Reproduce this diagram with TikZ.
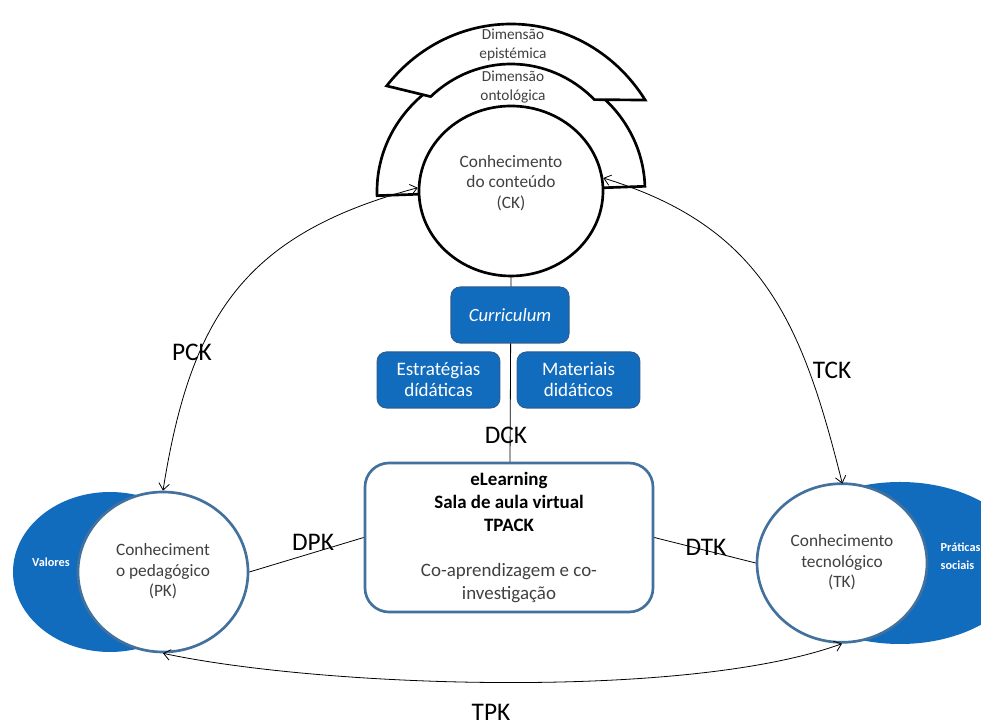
\documentclass[tikz,border=0pt]{standalone}
\usepackage{fontspec}
\setmainfont{Carlito}
\usetikzlibrary{shapes.geometric,arrows.meta}
\definecolor{boxblue}{RGB}{17,108,190}
\definecolor{edgeblue}{RGB}{46,94,146}
\definecolor{ringblue}{RGB}{65,113,156}
\definecolor{textgray}{RGB}{64,64,64}
\tikzset{
  knowledge/.style={ellipse,draw=ringblue,line width=2pt,fill=white,inner sep=0pt},
  ktext/.style={align=center,text=textgray,font=\fontsize{13}{15.5}\selectfont},
  topic/.style={rectangle,rounded corners=7pt,draw=edgeblue,line width=0.8pt,fill=boxblue,
    text=white,align=center,minimum height=42pt,inner sep=0pt,font=\fontsize{14.3}{15.75}\selectfont},
  relation/.style={font=\fontsize{19}{22}\selectfont},
  dimension/.style={draw=black,line width=2pt,fill=white},
  dtext/.style={align=center,text=textgray,font=\fontsize{11.5}{14}\selectfont},
  side/.style={text=white,font=\bfseries\fontsize{9.2}{13.5}\selectfont},
  link/.style={draw=black,line width=0.6pt},
}
\begin{document}
\begin{tikzpicture}[x=0.75pt,y=0.75pt,>={Straight Barb[length=5pt,width=8pt]}]
  \useasboundingbox (0,0) rectangle (981,727);
  \coordinate (ckc) at (511,536);
  \fill[boxblue] (110,155) ellipse[x radius=97,y radius=80];
  \fill[boxblue] (900,164) ellipse[x radius=125,y radius=81];
  \draw[dimension,rotate around={2:(ckc)}]
    ([shift={(180:134 and 128)}]ckc) arc[start angle=180,end angle=0,x radius=134,y radius=128] -- cycle;
  \draw[dimension]
    ([shift={(33:160 and 167)}]ckc) arc[start angle=33,end angle=141,x radius=160,y radius=167]
    -- ([shift={(132:120 and 127)}]ckc) arc[start angle=132,end angle=46,x radius=120,y radius=127] -- cycle;
  \node[dtext] (epist) at (513,682) {Dimensão\\epistémica};
  \node[dtext] (onto) at (513,640) {Dimensão\\ontológica};
  \draw[link] (511,450) -- (510,264);
  \node[knowledge,draw=black,minimum width=138pt,minimum height=127.5pt] (ck) at (ckc) {};
  \node[ktext] (cktext) at (511,544) {Conhecimento\\do conteúdo\\(CK)};
  \node[knowledge,minimum width=127.5pt,minimum height=120pt] (pk) at (163,155)
    {\fontsize{13}{15.5}\selectfont\color{textgray}\begin{tabular}{@{}c@{}}Conheciment\\o pedagógico\\(PK)\end{tabular}};
  \node[knowledge,minimum width=127.5pt,minimum height=119pt] (tk) at (842,164)
    {\fontsize{13}{15.5}\selectfont\color{textgray}\begin{tabular}{@{}c@{}}Conhecimento\\tecnológico\\(TK)\end{tabular}};
  \node[side] (valores) at (51,165) {Valores};
  \node[side,anchor=west,align=left] (praticas) at (936,171) {Práticas\\sociais};
  \node[topic,minimum width=88.5pt,font=\itshape\fontsize{14}{15.75}\selectfont] (curric) at (510,412) {Curriculum};
  \node[topic,minimum width=92pt] (estrat) at (438.5,347) {Estratégias\\dídáticas};
  \node[topic,minimum width=92pt] (mater) at (578.5,347) {Materiais\\didáticos};
  \node[rectangle,rounded corners=18pt,draw=ringblue,line width=2pt,fill=white,
    minimum width=216pt,minimum height=111.75pt,align=center,text=textgray,
    font=\fontsize{14.2}{17.2}\selectfont] (elearn) at (509,189.5)
    {\textcolor{black}{\bfseries eLearning}\\\textcolor{black}{\bfseries Sala de aula virtual}\\\textcolor{black}{\bfseries TPACK}\\[17.2pt]Co-aprendizagem e co-\\investigação};
  \draw[link] (pk.east) -- (elearn.west);
  \draw[link] (elearn.east) -- (tk.west);
  \draw[link,<->] (pk.north) to[out=81,in=195,looseness=1.15] (ck.178);
  \draw[link,<->,shorten >=-1pt] (ck.8) to[out=-17,in=104,looseness=1.1] (tk.north);
  \draw[link,<->] (pk.south) to[out=-12,in=200,looseness=0.62] (tk.south);
  \node[relation] (pck) at (192,375) {PCK};
  \node[relation] (tck) at (832,357) {TCK};
  \node[relation] (dck) at (506,292) {DCK};
  \node[relation] (dpk) at (313,185) {DPK};
  \node[relation] (dtk) at (706,180) {DTK};
  \node[relation] (tpk) at (491,15) {TPK};
\end{tikzpicture}
\end{document}
